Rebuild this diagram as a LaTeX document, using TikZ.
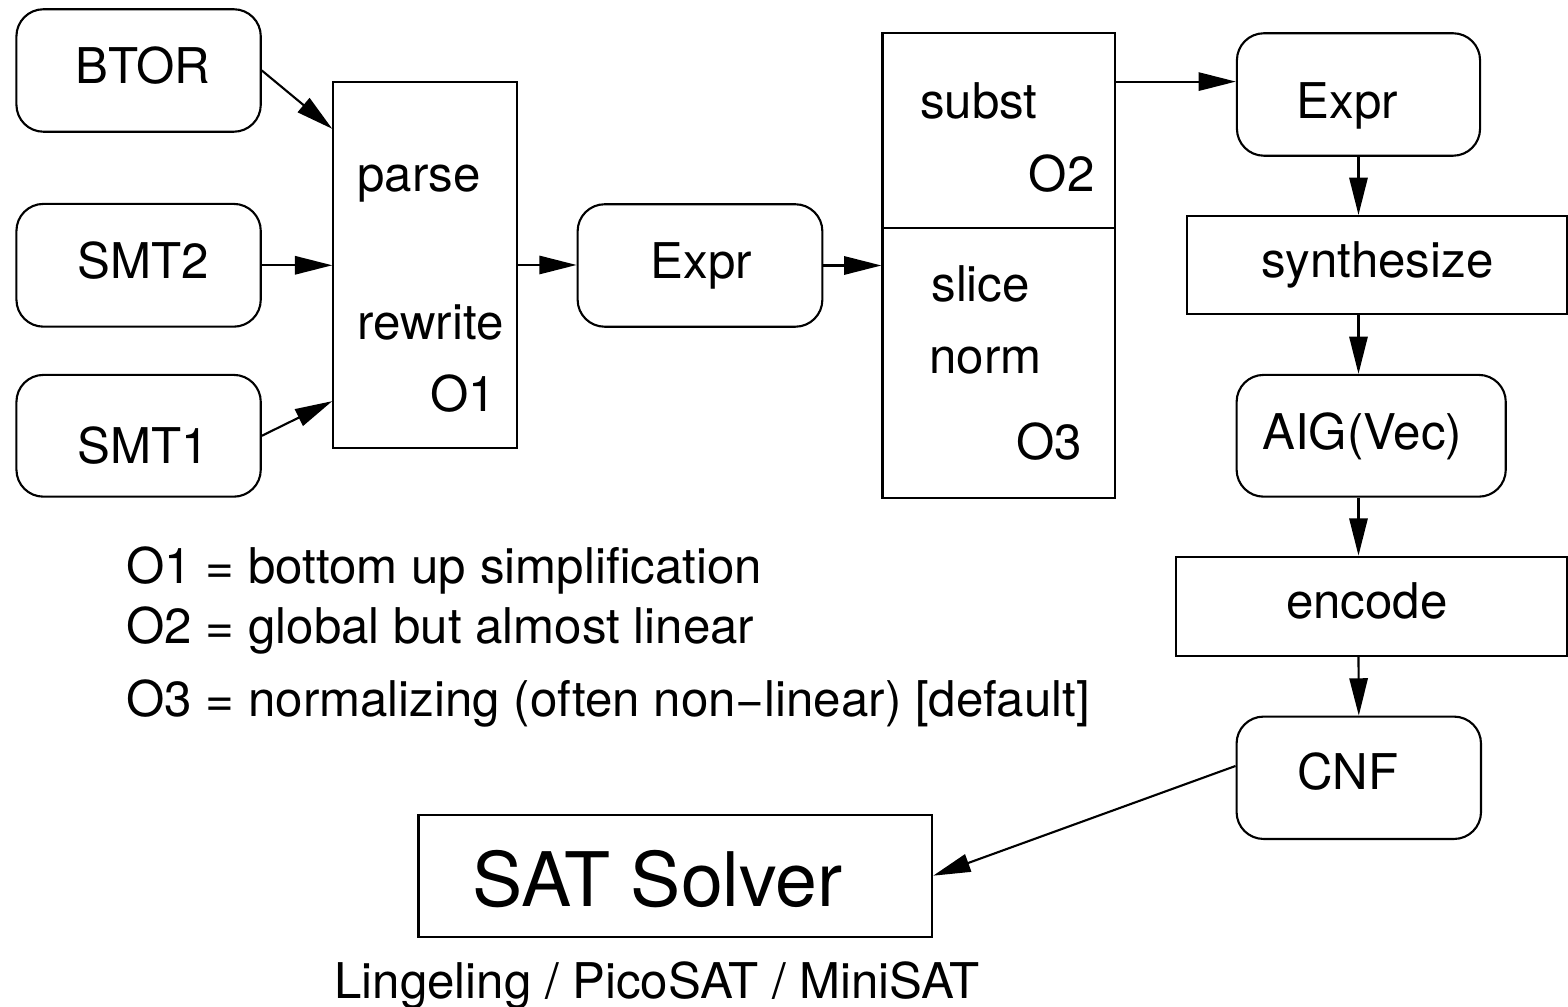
\documentclass[tikz,border=0pt]{standalone}
\usepackage{fontspec}
\setmainfont{TeX Gyre Heros}
\usetikzlibrary{arrows.meta,calc}
\begin{document}
\begin{tikzpicture}[x=0.01cm,y=-0.01cm,
  every node/.style={font=\fontsize{14pt}{16pt}\selectfont},
  box/.style={draw, line width=0.6pt, inner sep=0pt, rectangle},
  rbox/.style={box, rounded corners=0.27cm},
  lbl/.style={inner sep=0pt, anchor=base west},
  arr/.style={line width=0.6pt, -{Triangle[length=10.6pt,width=5.2pt]}}]
\useasboundingbox (0,0) rectangle (1568,1007);

% input formats
\node[rbox, minimum width=2.442cm, minimum height=1.224cm] (btor) at (138.6,70.5) {};
\node[rbox, minimum width=2.442cm, minimum height=1.227cm] (smt2) at (138.6,265.3) {};
\node[rbox, minimum width=2.442cm, minimum height=1.217cm] (smt1) at (138.6,435.8) {};
\node[lbl] (btort) at (74.9,83.3) {BTOR};
\node[lbl] (smt2t) at (76.9,278.3) {SMT2};
\node[lbl] (smt1t) at (76.7,463.3) {SMT1};

% parse / rewrite stage
\node[box, minimum width=1.837cm, minimum height=3.666cm] (parse) at (425.2,265) {};
\node[lbl] (parset) at (356.6,191.7) {parse};
\node[lbl] (rewritet) at (356.8,339.3) {rewrite};
\node[lbl] (o1t) at (429.6,411.7) {O1};

% first expression
\node[rbox, minimum width=2.446cm, minimum height=1.224cm] (expr1) at (700,265.5) {};
\node[lbl] (expr1t) at (650.1,278.3) {Expr};

% subst / slice / norm stage
\node[box, minimum width=2.325cm, minimum height=4.644cm] (subst) at (998.8,265.5) {};
\path (subst.north west) ++(0,195.7) coordinate (sdiv);
\draw[line width=0.6pt] (sdiv) -- (sdiv -| subst.east);
\node[lbl] (substt) at (919.5,119) {subst};
\node[lbl] (o2t) at (1028.2,191.7) {O2};
\node[lbl] (slicet) at (930.7,301.7) {slice};
\node[lbl] (normt) at (928.8,374) {norm};
\node[lbl] (o3t) at (1015.6,460) {O3};

% bit-blasting column
\node[rbox, minimum width=2.43cm, minimum height=1.224cm] (expr2) at (1358.5,94.5) {};
\node[lbl] (expr2t) at (1296.1,119) {Expr};
\node[box, minimum width=3.792cm, minimum height=0.98cm] (synth) at (1376.9,265) {};
\node[lbl] (syntht) at (1260.3,277.7) {synthesize};
\node[rbox, minimum width=2.69cm, minimum height=1.217cm] (aig) at (1371.2,435.8) {};
\node[lbl] (aigt) at (1261.7,449.3) {AIG(Vec)};
\node[box, minimum width=3.91cm, minimum height=0.99cm] (encode) at (1371.2,606.2) {};
\node[lbl] (encodet) at (1285.3,619) {encode};
\node[rbox, minimum width=2.443cm, minimum height=1.223cm] (cnf) at (1358.8,777.8) {};
\node[lbl] (cnft) at (1296.5,790) {CNF};

% SAT back end
\node[box, minimum width=5.134cm, minimum height=1.22cm] (sat) at (675.3,875.7) {};
\node[lbl, font=\fontsize{21.4pt}{24pt}\selectfont] (satt) at (471.6,906.7) {SAT Solver};
\node[lbl] (solvers) at (333.7,998.3) {Lingeling / PicoSAT / MiniSAT};

% legend
\node[lbl] (leg1) at (125.9,583.3) {O1 = bottom up simplification};
\node[lbl] (leg2) at (125.9,643.3) {O2 = global but almost linear};
\node[lbl] (leg3) at (125.9,716.7) {O3 = normalizing (often non−linear) [default]};

% connectors
\path (parse.north west) ++(0,48.3) coordinate (pin1);
\path (parse.south west) ++(0,-48.3) coordinate (pin3);
\path (expr2.north west) ++(0,49.4) coordinate (e2in);
\path (cnf.west) ++(0,-11.8) coordinate (cnfout);

\draw[arr] (btor.east) -- (pin1);
\draw[arr] (smt2.east) -- (smt2.east -| parse.west);
\draw[arr] (smt1.east) -- (pin3);
\draw[arr] (parse.east) -- (parse.east -| expr1.west);
\draw[arr] (expr1.east) -- (expr1.east -| subst.west);
\draw[arr] (subst.east |- e2in) -- (e2in);
\draw[arr] (expr2.south) -- (expr2.south |- synth.north);
\draw[arr] (expr2.south |- synth.south) -- (expr2.south |- aig.north);
\draw[arr] (expr2.south |- aig.south) -- (expr2.south |- encode.north);
\draw[arr] (expr2.south |- encode.south) -- (cnf.north);
\draw[arr] (cnfout) -- (sat.east);
\end{tikzpicture}
\end{document}
